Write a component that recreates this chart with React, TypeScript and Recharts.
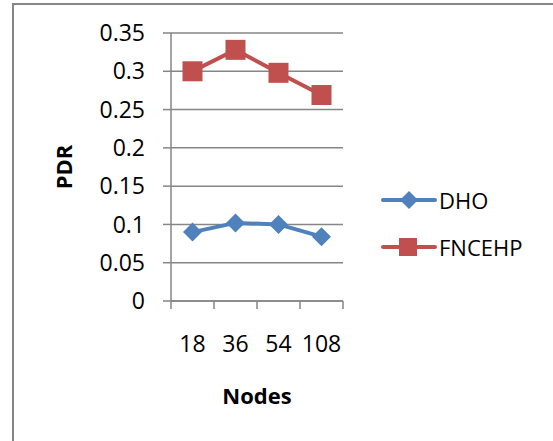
import { LineChart, Line, XAxis, YAxis, CartesianGrid } from "recharts";

const nodes = ["18", "36", "54", "108"];
const dho = [0.09, 0.102, 0.1, 0.084];
const fncehp = [0.3, 0.328, 0.298, 0.269];
const yTicks = [0, 0.05, 0.1, 0.15, 0.2, 0.25, 0.3, 0.35];

const BLUE = "#4F81BD";
const RED = "#C0504D";
const GRAY = "#868686";
const FONT = "'Open Sans', sans-serif";

// points sit in the middle of each category slot, ticks on the slot edges
const data = nodes.map((n, i) => ({ pos: i + 0.5, node: n, DHO: dho[i], FNCEHP: fncehp[i] }));
const xTicks: number[] = [];
for (let i = 0; i <= nodes.length * 2; i++) xTicks.push(i / 2);

const Diamond = (props: any) => {
  const { cx, cy, stroke } = props;
  if (cx == null || cy == null) return null;
  const r = 9.5;
  return <polygon points={`${cx},${cy - r} ${cx + r},${cy} ${cx},${cy + r} ${cx - r},${cy}`} fill={stroke} />;
};

const Square = (props: any) => {
  const { cx, cy, stroke } = props;
  if (cx == null || cy == null) return null;
  const r = 10;
  return <rect x={cx - r} y={cy - r} width={2 * r} height={2 * r} fill={stroke} />;
};

const XTick = (props: any) => {
  const { x, y, payload } = props;
  const v = payload.value as number;
  if (Number.isInteger(v)) {
    return <line x1={x} y1={y} x2={x} y2={y + 8} stroke={GRAY} strokeWidth={1.5} />;
  }
  return (
    <text x={x} y={y + 42} textAnchor="middle" dominantBaseline="central" fontSize={23} fontFamily={FONT} fill="#000">
      {nodes[Math.floor(v)]}
    </text>
  );
};

const LegendBox = () => (
  <div style={{ position: "absolute", left: 381, top: 185, fontFamily: FONT, fontSize: 22, color: "#000" }}>
    {[
      { name: "DHO", color: BLUE, square: false },
      { name: "FNCEHP", color: RED, square: true },
    ].map((it, i) => (
      <div key={it.name} style={{ display: "flex", alignItems: "center", height: 30, marginTop: i ? 17 : 0 }}>
        <svg width={56} height={24}>
          <line x1={2} y1={12} x2={54} y2={12} stroke={it.color} strokeWidth={4} strokeLinecap="round" />
          {it.square ? (
            <rect x={18} y={3} width={18} height={18} fill={it.color} />
          ) : (
            <polygon points="28,3 37,12 28,21 19,12" fill={it.color} />
          )}
        </svg>
        <span style={{ marginLeft: 2 }}>{it.name}</span>
      </div>
    ))}
  </div>
);

export default function App() {
  return (
    <div style={{ position: "fixed", left: 0, top: 0, width: 553, height: 441, background: "#fff" }}>
      <div
        style={{
          position: "absolute",
          left: 12,
          top: 3,
          width: 541,
          height: 438,
          borderLeft: `2px solid ${GRAY}`,
          borderTop: `2px solid ${GRAY}`,
        }}
      />
      <LineChart
        width={553}
        height={441}
        data={data}
        margin={{ top: 33, right: 210, bottom: 80, left: 0 }}
        style={{ position: "absolute", left: 0, top: 0 }}
      >
        <CartesianGrid horizontal vertical={false} stroke={GRAY} strokeWidth={1.5} />
        <XAxis
          dataKey="pos"
          type="number"
          domain={[0, nodes.length]}
          ticks={xTicks}
          interval={0}
          height={60}
          tickSize={0}
          tickMargin={0}
          tickLine={false}
          axisLine={{ stroke: GRAY, strokeWidth: 1.5 }}
          tick={<XTick />}
          label={{
            content: () => (
              <text x={257} y={395} textAnchor="middle" dominantBaseline="central" fontSize={22} fontWeight="bold" fontFamily={FONT} fill="#000">
                Nodes
              </text>
            ),
          }}
        />
        <YAxis
          type="number"
          domain={[0, 0.35]}
          ticks={yTicks}
          interval={0}
          width={171}
          tickSize={8}
          tickMargin={18}
          tickLine={{ stroke: GRAY, strokeWidth: 1.5 }}
          axisLine={{ stroke: GRAY, strokeWidth: 1.5 }}
          tick={{ fontSize: 23, fontFamily: FONT, fill: "#000" }}
          label={{
            content: () => (
              <text x={63} y={167} transform="rotate(-90 63 167)" textAnchor="middle" dominantBaseline="central" fontSize={22} fontWeight="bold" fontFamily={FONT} fill="#000">
                PDR
              </text>
            ),
          }}
        />
        <Line dataKey="DHO" stroke={BLUE} strokeWidth={4} dot={<Diamond />} activeDot={false} isAnimationActive={false} />
        <Line dataKey="FNCEHP" stroke={RED} strokeWidth={4} dot={<Square />} activeDot={false} isAnimationActive={false} />
      </LineChart>
      <LegendBox />
    </div>
  );
}
